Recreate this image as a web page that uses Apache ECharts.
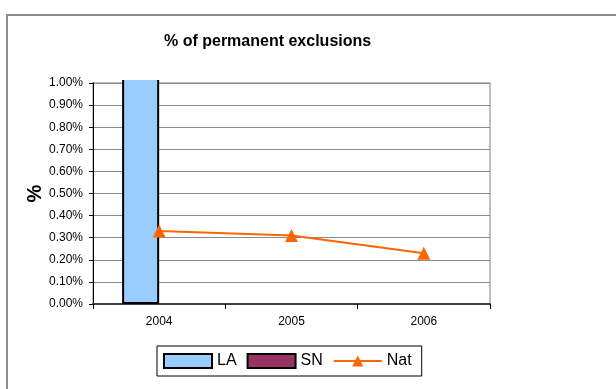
<!DOCTYPE html>
<html>
<head>
<meta charset="utf-8">
<script src="https://cdn.jsdelivr.net/npm/echarts@6/dist/echarts.min.js"></script>
<style>
  html, body { margin: 0; padding: 0; background: #fff; }
  #chart { width: 616px; height: 389px; }
</style>
</head>
<body>
<div id="chart"></div>
<script>
// Years on the category axis
const years = ['2004', '2005', '2006'];
// Percentage of permanent exclusions (values in %)
const laValues = [1.20, null, null];
const snValues = [null, null, null];
const natValues = [0.33, 0.31, 0.23];
// Value axis range and step (in %)
const yMin = 0;
const yMax = 1.0;
const yStep = 0.1;

const font = 'Arial, "Liberation Sans", sans-serif';
const chart = echarts.init(document.getElementById('chart'), null, { renderer: 'canvas' });

chart.setOption({
  animation: false,
  backgroundColor: '#fff',
  graphic: [
    {
      // chart frame
      type: 'rect',
      shape: { x: 7, y: 15, width: 640, height: 400 },
      style: { fill: 'none', stroke: '#8c8c8c', lineWidth: 2 },
      z: -1
    },
    {
      // hides the part of off-scale bars above the plot area
      type: 'rect',
      shape: { x: 96, y: 17, width: 500, height: 63 },
      style: { fill: '#fff' },
      z: 4
    }
  ],
  title: {
    text: '% of permanent exclusions',
    left: 164,
    top: 34,
    padding: 0,
    z: 8,
    textStyle: { fontFamily: font, fontSize: 16, fontWeight: 'bold', color: '#000' }
  },
  legend: {
    left: 157,
    top: 346,
    padding: [7, 10, 7, 6],
    itemGap: 10,
    itemWidth: 48,
    itemHeight: 14,
    borderColor: '#000',
    borderWidth: 1,
    textStyle: { fontFamily: font, fontSize: 16, color: '#000' },
    data: [
      { name: 'LA', icon: 'rect' },
      { name: 'SN', icon: 'rect' },
      { name: 'Nat' }
    ]
  },
  grid: {
    left: 93, right: 126, top: 83, bottom: 85,
    show: true,
    borderColor: '#c0c0c0',
    borderWidth: 2,
    backgroundColor: '#fff'
  },
  xAxis: {
    type: 'category',
    data: years,
    boundaryGap: true,
    axisLine: { lineStyle: { color: '#404040', width: 2 } },
    axisTick: { show: true, length: 5, lineStyle: { color: '#000' } },
    axisLabel: { fontFamily: font, fontSize: 12, color: '#000', margin: 12 }
  },
  yAxis: {
    type: 'value',
    min: yMin,
    max: yMax,
    interval: yStep,
    name: '%',
    nameLocation: 'middle',
    nameRotate: 90,
    nameGap: 48,
    nameMoveOverlap: false,
    nameTextStyle: { fontFamily: font, fontSize: 20, fontWeight: 'bold', color: '#000' },
    axisLine: { show: true, lineStyle: { color: '#000', width: 1 } },
    axisTick: { show: true, length: 4, lineStyle: { color: '#000' } },
    axisLabel: {
      fontFamily: font, fontSize: 12, color: '#000', margin: 10,
      formatter: v => v.toFixed(2) + '%'
    },
    splitLine: { show: true, lineStyle: { color: '#8a8a8a', width: 1 } }
  },
  series: [
    {
      name: 'LA',
      type: 'bar',
      data: laValues,
      barGap: '0%',
      barCategoryGap: '44%',
      clip: false,
      itemStyle: { color: '#99ccff', borderColor: '#000', borderWidth: 2 }
    },
    {
      name: 'SN',
      type: 'bar',
      data: snValues,
      clip: false,
      itemStyle: { color: '#993366', borderColor: '#000', borderWidth: 2 }
    },
    {
      name: 'Nat',
      type: 'line',
      data: natValues,
      symbol: 'triangle',
      symbolSize: 13,
      lineStyle: { color: '#ff6600', width: 2 },
      itemStyle: { color: '#ff6600' },
      z: 5
    }
  ]
});
</script>
</body>
</html>
